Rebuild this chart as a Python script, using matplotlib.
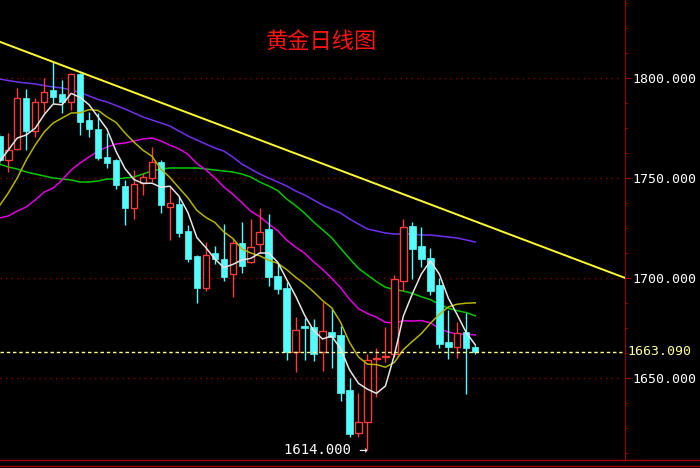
import numpy as np
import matplotlib.pyplot as plt
from matplotlib.lines import Line2D

# dati (54 candele giornaliere)
opens = [1771, 1759, 1764.5, 1790, 1773.5, 1788, 1794, 1792, 1788, 1802,
         1779, 1774.5, 1760.5, 1759, 1746, 1735, 1747.5, 1750, 1758, 1735.5,
         1737, 1723.5, 1711, 1695, 1712.5, 1709.5, 1702, 1717.5, 1708, 1717,
         1724.5, 1701, 1695, 1663, 1676, 1675.5, 1663, 1673, 1671.5, 1644,
         1622.5, 1628, 1659.5, 1660.5, 1662, 1698.5, 1726, 1716, 1710, 1696.5,
         1668, 1665.5, 1673, 1665.5]
highs = [1772.5, 1772.5, 1795, 1794.5, 1790, 1800, 1808, 1799, 1802.5, 1802.5,
         1783, 1782.5, 1772.5, 1759.5, 1749, 1754, 1752.5, 1765.5, 1759, 1745.5,
         1740.5, 1726.5, 1711.5, 1718, 1716, 1727, 1720, 1728, 1729.5, 1735,
         1732, 1707.5, 1698, 1680.5, 1680, 1679.5, 1688, 1685, 1676, 1650,
         1642.5, 1662, 1665, 1675.5, 1701.5, 1729.5, 1728, 1725.5, 1715, 1700,
         1684, 1678, 1682.5, 1666.5]
lows = [1756.5, 1753, 1764, 1764, 1770.5, 1782.5, 1787.5, 1782.5, 1784, 1771.5,
        1770.5, 1759, 1755, 1744.5, 1726.5, 1729.5, 1741.5, 1748, 1732.5, 1719,
        1720.5, 1708, 1687.5, 1693.5, 1707, 1698.5, 1690.5, 1702.5, 1707.5, 1712.5,
        1696, 1692, 1659, 1653, 1659, 1658.5, 1653.5, 1655, 1638.5, 1620.5,
        1620.5, 1614, 1640.5, 1658, 1660.5, 1693.5, 1699.5, 1705.5, 1691.5, 1665,
        1659.5, 1660, 1642, 1662]
closes = [1759, 1764, 1790, 1773.5, 1788, 1793, 1790.5, 1788, 1802, 1778,
          1774.5, 1760, 1757.5, 1746.5, 1735, 1747, 1750.5, 1758, 1736.5, 1737.5,
          1722.5, 1709.5, 1695, 1711.5, 1709.5, 1700.5, 1717.5, 1706, 1715.5, 1723,
          1700.5, 1694.5, 1663, 1674, 1675, 1662, 1673.5, 1670.5, 1642.5, 1622,
          1628, 1659, 1660, 1661, 1699.5, 1725.5, 1714.5, 1709.5, 1693.5, 1667,
          1665.5, 1672.5, 1665, 1663.09]

ma5 = [1758, 1764, 1770, 1771.5, 1774.9, 1781.7, 1787, 1786.6, 1792.3, 1790.3,
       1786.6, 1780.5, 1774.4, 1763.3, 1754.7, 1749.2, 1747.3, 1747.4, 1745.4, 1745.9,
       1741, 1732.8, 1720.2, 1715.2, 1709.6, 1705.2, 1706.8, 1709, 1709.8, 1712.5,
       1712.5, 1707.9, 1699.3, 1691, 1681.4, 1673.7, 1669.5, 1671, 1664.7, 1654.1,
       1647.3, 1644.4, 1642.3, 1646, 1661.5, 1681, 1692.1, 1702, 1708.5, 1702,
       1690, 1681.6, 1672.7, 1666.6]
ma10 = [1736, 1742.5, 1750, 1759, 1766.5, 1773, 1777.5, 1780, 1782.5, 1782.6,
        1784.2, 1783.8, 1780.5, 1777.8, 1772.5, 1767.9, 1763.9, 1760.9, 1754.4, 1750.3,
        1745.1, 1740.1, 1733.8, 1730.3, 1727.8, 1723.1, 1719.8, 1714.6, 1712.5, 1711.1,
        1708.9, 1707.4, 1704.2, 1700.4, 1697, 1693.1, 1688.7, 1685.2, 1677.9, 1667.8,
        1660.5, 1656.9, 1656.7, 1655.4, 1657.8, 1664.2, 1668.3, 1672.2, 1677.3, 1681.8,
        1685.5, 1686.9, 1687.4, 1687.6]
ma20 = [1730, 1731, 1733.5, 1735.5, 1739, 1743, 1745, 1749, 1754, 1757.5,
        1760.5, 1763.5, 1765.5, 1767, 1767.5, 1768.5, 1769.5, 1770, 1768.5, 1766.4,
        1764.6, 1761.9, 1757.2, 1754.1, 1750.1, 1745.5, 1741.9, 1737.8, 1733.4, 1730.7,
        1727, 1723.7, 1719, 1715.4, 1712.4, 1708.1, 1704.3, 1699.9, 1695.2, 1689.4,
        1684.7, 1682.2, 1680.4, 1677.9, 1677.4, 1678.6, 1678.5, 1678.7, 1677.6, 1674.8,
        1673, 1671.9, 1672, 1671.5]
ma30 = [1757, 1755.5, 1754.5, 1753, 1752, 1751, 1750, 1749.5, 1749, 1748,
        1748, 1748.5, 1749.5, 1749.5, 1750, 1750.5, 1752, 1753.5, 1754.5, 1755,
        1755, 1755, 1755, 1754.5, 1754, 1753.5, 1753, 1752, 1750.5, 1748,
        1746, 1743.7, 1739.5, 1736.2, 1732.4, 1728, 1724.1, 1720.2, 1714.9, 1709.7,
        1704.8, 1701.5, 1698.2, 1695.4, 1694.2, 1693.5, 1692.3, 1690.6, 1689.2, 1686.9,
        1684.9, 1683.7, 1682.7, 1681.1]
ma60 = [1799.5, 1798.75, 1798, 1797.5, 1797, 1796.25, 1795.5, 1795, 1794, 1792.75,
        1791, 1789.25, 1788, 1786.25, 1784.5, 1782.5, 1780.5, 1779, 1777.5, 1776,
        1773.5, 1771, 1769, 1767, 1765, 1763.5, 1760.5, 1757, 1754.5, 1752,
        1750, 1748, 1746, 1743.5, 1741.5, 1739, 1736.5, 1734.5, 1732.5, 1729.5,
        1727, 1724.5, 1723.5, 1722.5, 1722, 1722, 1722, 1721.5, 1721.5, 1721,
        1720.5, 1720, 1719, 1718]

# linea di tendenza: due punti
trend_x = [0, 69.7]
trend_y = [1818.2, 1700]

ultimo = 1663.09
minimo = 1614.0
titolo = "黄金日线图"

plt.rcParams['font.family'] = ['Noto Sans CJK SC', 'DejaVu Sans']

rosso = "#ff3c3c"
ciano = "#54fcfc"
griglia = "#8c0000"

fig = plt.figure(figsize=(7, 4.68), dpi=100, facecolor="black")
ax = fig.add_axes([0, 9 / 468, 625 / 700, 459 / 468], facecolor="black")

x = np.arange(len(closes))
o = np.array(opens)
c = np.array(closes)
su = c >= o

# griglia tratteggiata rossa
for livello in [1650, 1700, 1750, 1800]:
    ax.axhline(livello, xmax=0.995, color=griglia, lw=1, ls=(0, (1, 3)), zorder=1)

# medie mobili
ax.plot(x, ma60, color="#7030f0", lw=1.1, zorder=2)
ax.plot(x, ma30, color="#00c800", lw=1.1, zorder=2)
ax.plot(x, ma20, color="#e000e0", lw=1.1, zorder=2)

# candele
ax.vlines(x[su], np.array(lows)[su], np.array(highs)[su], color=rosso, lw=1, zorder=3)
ax.vlines(x[~su], np.array(lows)[~su], np.array(highs)[~su], color=ciano, lw=1, zorder=3)
corpo = np.maximum(np.abs(c - o), 0.6)
ax.bar(x[su], corpo[su], bottom=np.minimum(o, c)[su], width=0.72,
       facecolor="black", edgecolor=rosso, lw=1, zorder=4)
ax.bar(x[~su], corpo[~su], bottom=np.minimum(o, c)[~su], width=0.72,
       facecolor=ciano, edgecolor=ciano, lw=0.5, zorder=4)

ax.plot(x, ma10, color="#b4b400", lw=1.1, zorder=5)
ax.plot(x, ma5, color="#e6e6e6", lw=1.1, zorder=5)

ax.plot(trend_x, trend_y, color="#ffff30", lw=1.4, zorder=6)
ax.axhline(ultimo, xmax=0.995, color="#ffff90", lw=1, ls=(0, (2.5, 2)), zorder=6)

ax.text(41, minimo, "%.3f →" % minimo, color="white", ha="right", va="center",
        fontsize=10, family=["DejaVu Sans Mono"], zorder=7)

ax.set_xlim(0.078, 69.68)
ax.set_ylim(1609.5, 1839)

# asse destro
for lato in ["left", "top", "bottom"]:
    ax.spines[lato].set_visible(False)
ax.spines["right"].set_color("#a00000")
ax.set_xticks([])
ax.yaxis.tick_right()
ax.set_yticks([1650, 1700, 1750, 1800])
ax.set_yticklabels(["%.3f" % v for v in [1650, 1700, 1750, 1800]],
                   family=["DejaVu Sans Mono"], fontsize=9.5, color="white")
ax.set_yticks(np.arange(1612.5, 1839, 12.5), minor=True)
ax.tick_params(axis="y", which="major", length=4.5, color="#a00000", pad=0.6)
ax.tick_params(axis="y", which="minor", length=2.2, color="#a00000")

# etichetta dell'ultimo prezzo
ax.text(1.004, ultimo, "%.3f" % ultimo, transform=ax.get_yaxis_transform(),
        color="#ffffa0", fontsize=9.5, family=["DejaVu Sans Mono"], va="center",
        clip_on=False)

fig.text(321 / 700, 1 - 42 / 468, titolo, color="#ff1414", fontsize=16,
         ha="center", va="center")

# doppia linea in basso
fig.add_artist(Line2D([0, 1], [1 - 459.5 / 468] * 2, color="#a00000", lw=1))
fig.add_artist(Line2D([0, 1], [1 - 465.5 / 468] * 2, color="#a00000", lw=1))

fig.savefig("out.png", dpi=100, facecolor="black")
